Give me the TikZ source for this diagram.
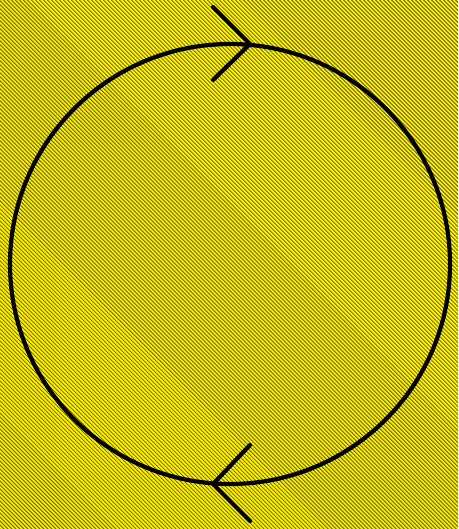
\documentclass[tikz,border=0pt]{standalone}
\usetikzlibrary{patterns.meta}

\definecolor{hatch}{RGB}{95,93,30}

\begin{document}
\begin{tikzpicture}[x=1pt,y=-1pt]

  % Page frame: yellow ground with dark diagonal hatching
  \tikzset{ground/.style={fill=yellow,
      postaction={pattern={Lines[angle=-45,distance=2.83pt,line width=0.8pt]},
                  pattern color=hatch}}}
  \fill[ground] (0,0) rectangle (458,529);
  \useasboundingbox (0,0) rectangle (458,529);

  % The cycle itself
  \tikzset{cycle/.style={line width=4.2pt,black},
           chevron/.style={line width=4.2pt,black,line cap=round,line join=miter}}
  \coordinate (centre) at (230,264);
  \draw[cycle] (centre) circle[radius=220];

  % Arrow heads: clockwise at the top, anticlockwise look at the bottom
  \coordinate (toptip) at (250,44);
  \coordinate (bottip) at (213,484);
  \draw[chevron] (213,7) -- (toptip) -- (213,80);
  \draw[chevron] (250,445) -- (bottip) -- (250,521);

\end{tikzpicture}
\end{document}
